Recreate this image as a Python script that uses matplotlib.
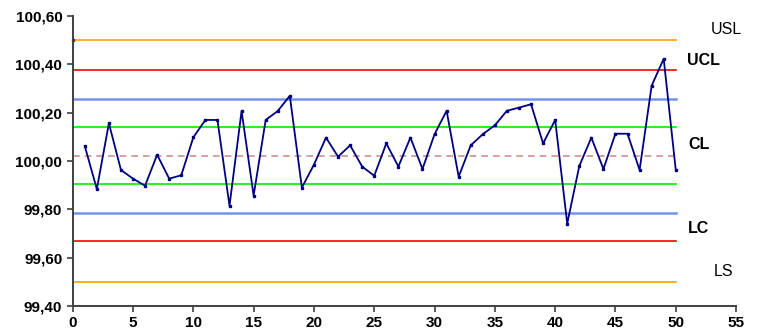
import matplotlib
matplotlib.use("Agg")
import matplotlib.pyplot as plt
from matplotlib.ticker import FuncFormatter, MultipleLocator

plt.rcParams["font.family"] = ["Liberation Sans", "DejaVu Sans"]

# individual measurements, samples 1..50
samples = list(range(1, 51))
values = [100.062, 99.884, 100.156, 99.963, 99.927, 99.898, 100.026, 99.927, 99.941, 100.098,
          100.170, 100.170, 99.815, 100.207, 99.857, 100.170, 100.207, 100.270, 99.890, 99.985,
          100.097, 100.018, 100.065, 99.977, 99.939, 100.073, 99.977, 100.097, 99.967, 100.111,
          100.208, 99.935, 100.065, 100.111, 100.148, 100.208, 100.221, 100.235, 100.073, 100.170,
          99.741, 99.979, 100.097, 99.967, 100.113, 100.113, 99.963, 100.312, 100.423, 99.963]

# specification and control limits
usl, lsl = 100.50, 99.50
cl = 100.022
ucl, lcl = 100.376, 99.668
sigma2_hi, sigma2_lo = 100.257, 99.786
sigma1_hi, sigma1_lo = 100.139, 99.904

limit_names = ["USL", "UCL", "CL", "LC", "LS"]
limit_pos = [(54.2, 100.546), (52.3, 100.418), (51.9, 100.07), (51.9, 99.719), (54.0, 99.541)]
limit_bold = [False, True, True, True, False]

fig = plt.figure(figsize=(7.59, 3.31), dpi=100)
ax = fig.add_axes([0.0958, 0.0755, 0.874, 0.876])

x_span = [0, 50]
ax.plot(x_span, [usl, usl], color="#FFA000", lw=1.2)
ax.plot(x_span, [lsl, lsl], color="#FFA000", lw=1.2)
ax.plot(x_span, [ucl, ucl], color="#FF0000", lw=1.2)
ax.plot(x_span, [lcl, lcl], color="#FF0000", lw=1.2)
ax.plot(x_span, [sigma2_hi, sigma2_hi], color="#7293F0", lw=1.8)
ax.plot(x_span, [sigma2_lo, sigma2_lo], color="#7293F0", lw=1.8)
ax.plot(x_span, [sigma1_hi, sigma1_hi], color="#00F000", lw=1.2)
ax.plot(x_span, [sigma1_lo, sigma1_lo], color="#00F000", lw=1.2)
ax.plot(x_span, [cl, cl], color="#D09090", lw=1.2, ls=(0, (4, 3)))

ax.plot(samples, values, color="#000080", lw=1.3, marker="s", ms=1.8)
ax.plot([0], [usl], marker="s", color="#8000A0", ms=2.0, clip_on=False)

for name, (tx, ty), bold in zip(limit_names, limit_pos, limit_bold):
    ax.text(tx, ty, name, fontsize=11.5, fontweight="bold" if bold else "normal",
            ha="center", va="center", color="black")

ax.set_xlim(0, 55)
ax.set_ylim(99.40, 100.60)
ax.xaxis.set_major_locator(MultipleLocator(5))
ax.yaxis.set_major_locator(MultipleLocator(0.2))
ax.yaxis.set_major_formatter(FuncFormatter(lambda v, p: f"{v:.2f}".replace(".", ",")))

for side in ["top", "right"]:
    ax.spines[side].set_visible(False)
for side in ["left", "bottom"]:
    ax.spines[side].set_color("#404040")
    ax.spines[side].set_linewidth(1.4)
ax.tick_params(direction="out", length=4, width=1.2, color="#404040", labelsize=11)
for lbl in ax.get_xticklabels() + ax.get_yticklabels():
    lbl.set_fontweight("bold")

fig.savefig("out.png", dpi=100)
